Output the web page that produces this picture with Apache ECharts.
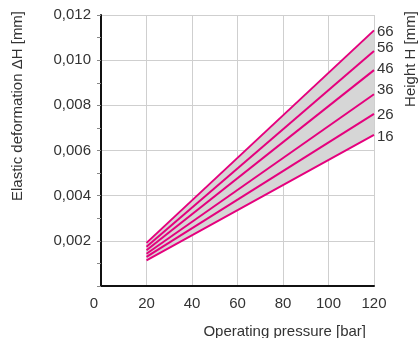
<!DOCTYPE html>
<html>
<head>
<meta charset="utf-8">
<script src="https://cdn.jsdelivr.net/npm/echarts@6/dist/echarts.min.js"></script>
<style>
  html, body { margin: 0; padding: 0; background: #fff; }
  #chart { width: 420px; height: 338px; }
</style>
</head>
<body>
<div id="chart"></div>
<script>
// Operating pressure [bar] – line endpoints
var pressures = [20, 120];
// Height H [mm] – one line per height
var heights = ['66', '56', '46', '36', '26', '16'];
// Elastic deformation ΔH [mm] at the pressures above
var deform66 = [0.00191, 0.01132];
var deform56 = [0.00174, 0.01041];
var deform46 = [0.00158, 0.00956];
var deform36 = [0.00143, 0.00849];
var deform26 = [0.00129, 0.00762];
var deform16 = [0.00113, 0.00669];
var xTicks = [0, 20, 40, 60, 80, 100, 120];
var yTicks = [0, 0.002, 0.004, 0.006, 0.008, 0.010, 0.012];

var lineValues = [deform66, deform56, deform46, deform36, deform26, deform16];
var labelShift = [2, -3, -1, -4, 1, 2];

var FONT = '"Liberation Sans", Arial, sans-serif';
var TEXT = '#333333';
var PINK = '#e5007d';

function pairs(vals) {
  return pressures.map(function (p, i) { return [p, vals[i]]; });
}

var bandLow = deform16, bandHigh = deform66;
var bandData = pressures.map(function (p, i) { return [p, bandLow[i], bandHigh[i]]; });

var series = [
  {
    name: 'band', type: 'custom', silent: true, z: 1,
    data: bandData,
    encode: { x: 0, y: [1, 2] },
    renderItem: function (params, api) {
      if (params.dataIndex !== 0) return null;
      var upper = bandData.map(function (d) { return api.coord([d[0], d[2]]); });
      var lower = bandData.map(function (d) { return api.coord([d[0], d[1]]); }).reverse();
      return {
        type: 'polygon',
        shape: { points: upper.concat(lower) },
        style: { fill: '#d6d6d6' }
      };
    }
  }
];
heights.forEach(function (h, k) {
  series.push({
    name: h, type: 'line', data: pairs(lineValues[k]), symbol: 'none',
    lineStyle: { color: PINK, width: 2 }, z: 3, silent: true,
    endLabel: {
      show: true, formatter: h, distance: 3,
      offset: [0, labelShift[k]],
      fontFamily: FONT, fontSize: 15, color: TEXT
    }
  });
});

var chart = echarts.init(document.getElementById('chart'), null, { renderer: 'canvas' });
chart.setOption({
  animation: false,
  backgroundColor: '#ffffff',
  grid: { left: 101, right: 46, top: 15, bottom: 52, containLabel: false },
  xAxis: {
    type: 'value', min: xTicks[0], max: xTicks[xTicks.length - 1], interval: 20,
    axisLine: { show: true, onZero: false, lineStyle: { color: '#111', width: 2 } },
    axisTick: { show: false },
    axisLabel: {
      margin: 10, fontFamily: FONT, fontSize: 15, color: TEXT,
      formatter: function (v) { return v === 0 ? '{z|0}' : String(v); },
      rich: { z: { fontFamily: FONT, fontSize: 15, color: TEXT, padding: [0, 14, 0, 0] } }
    },
    splitLine: { show: true, lineStyle: { color: '#cfcfcf', width: 1 } }
  },
  yAxis: {
    type: 'value', min: yTicks[0], max: yTicks[yTicks.length - 1], interval: 0.002,
    axisLine: { show: true, onZero: false, lineStyle: { color: '#111', width: 2 } },
    axisTick: { show: true, inside: false, length: 4, lineStyle: { color: '#888' } },
    minorTick: { show: true, splitNumber: 2, length: 4, lineStyle: { color: '#888' } },
    axisLabel: {
      margin: 10, fontFamily: FONT, fontSize: 15, color: TEXT,
      formatter: function (v) { return v === 0 ? '' : v.toFixed(3).replace('.', ','); }
    },
    splitLine: { show: true, lineStyle: { color: '#cfcfcf', width: 1 } }
  },
  graphic: [
    {
      type: 'text', x: 18, y: 106, rotation: Math.PI / 2,
      style: { text: 'Elastic deformation \u0394H [mm]', fill: TEXT,
        font: '15px ' + FONT, align: 'center', verticalAlign: 'middle' }
    },
    {
      type: 'text', x: 411, y: 59, rotation: Math.PI / 2,
      style: { text: 'Height H [mm]', fill: TEXT,
        font: '15px ' + FONT, align: 'center', verticalAlign: 'middle' }
    },
    {
      type: 'text', x: 366, y: 332,
      style: { text: 'Operating pressure [bar]', fill: TEXT,
        font: '15px ' + FONT, align: 'right', verticalAlign: 'middle' }
    }
  ],
  series: series
});
</script>
</body>
</html>
